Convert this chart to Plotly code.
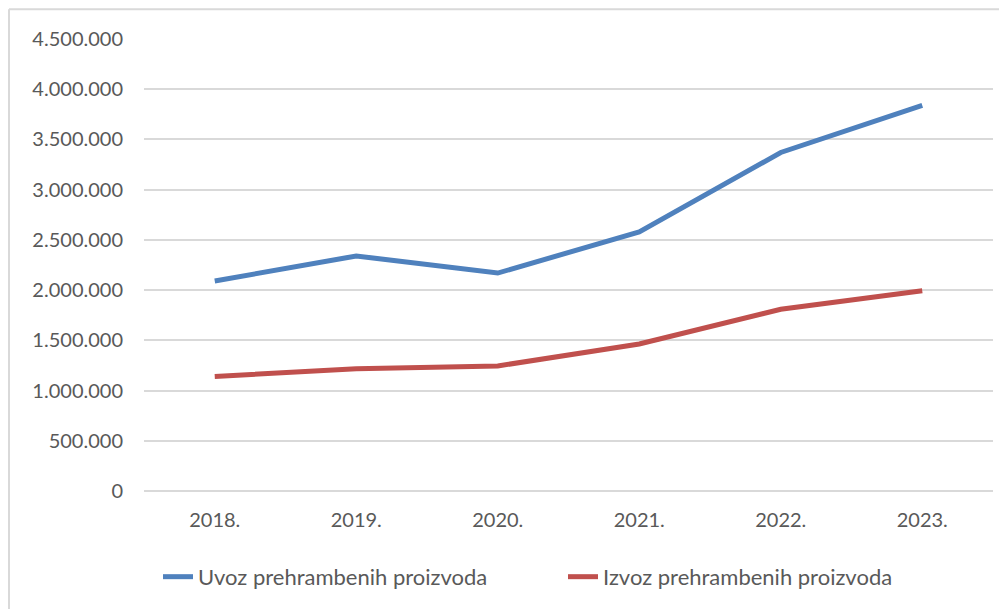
import plotly.graph_objects as go

# Data
godine = ['2018.', '2019.', '2020.', '2021.', '2022.', '2023.']
uvoz = [2091000, 2340000, 2170000, 2579000, 3370000, 3840000]
izvoz = [1140000, 1218000, 1245000, 1464000, 1810000, 1993000]

fig = go.Figure()
fig.add_trace(go.Scatter(x=godine, y=uvoz, mode='lines', name='Uvoz prehrambenih proizvoda',
                         line=dict(color='#4F81BD', width=5)))
fig.add_trace(go.Scatter(x=godine, y=izvoz, mode='lines', name='Izvoz prehrambenih proizvoda',
                         line=dict(color='#C0504D', width=5)))

# outer chart border (top and left edges of the figure)
fig.add_shape(type='line', xref='paper', yref='paper', x0=-0.159, x1=1.1, y0=1.066, y1=1.066,
              line=dict(color='#D9D9D9', width=2))
fig.add_shape(type='line', xref='paper', yref='paper', x0=-0.159, x1=-0.159, y0=-0.3, y1=1.066,
              line=dict(color='#D9D9D9', width=2))

fig.update_layout(
    width=1007, height=609,
    margin=dict(l=136, r=22, t=31, b=126, autoexpand=False),
    plot_bgcolor='white', paper_bgcolor='white',
    separators=',.',
    font=dict(family='Lato, Open Sans, sans-serif', size=20, color='#595959'),
    showlegend=True,
    legend=dict(orientation='h', x=0.0165, xanchor='left', y=-0.19, yanchor='middle',
                font=dict(size=22, color='#595959'), entrywidth=360, tracegroupgap=0),
    xaxis=dict(range=[-0.5, 5.5], showgrid=False, showline=False, ticks='',
               ticklabelstandoff=15, tickfont=dict(size=20)),
    yaxis=dict(range=[0, 4500000], dtick=500000, tickformat=',d', showgrid=True,
               gridcolor='#D9D9D9', gridwidth=1.5, zeroline=True, zerolinecolor='#D9D9D9',
               zerolinewidth=1.5, ticklabelstandoff=20, tickfont=dict(size=20)),
)

fig.write_html('out.html')
